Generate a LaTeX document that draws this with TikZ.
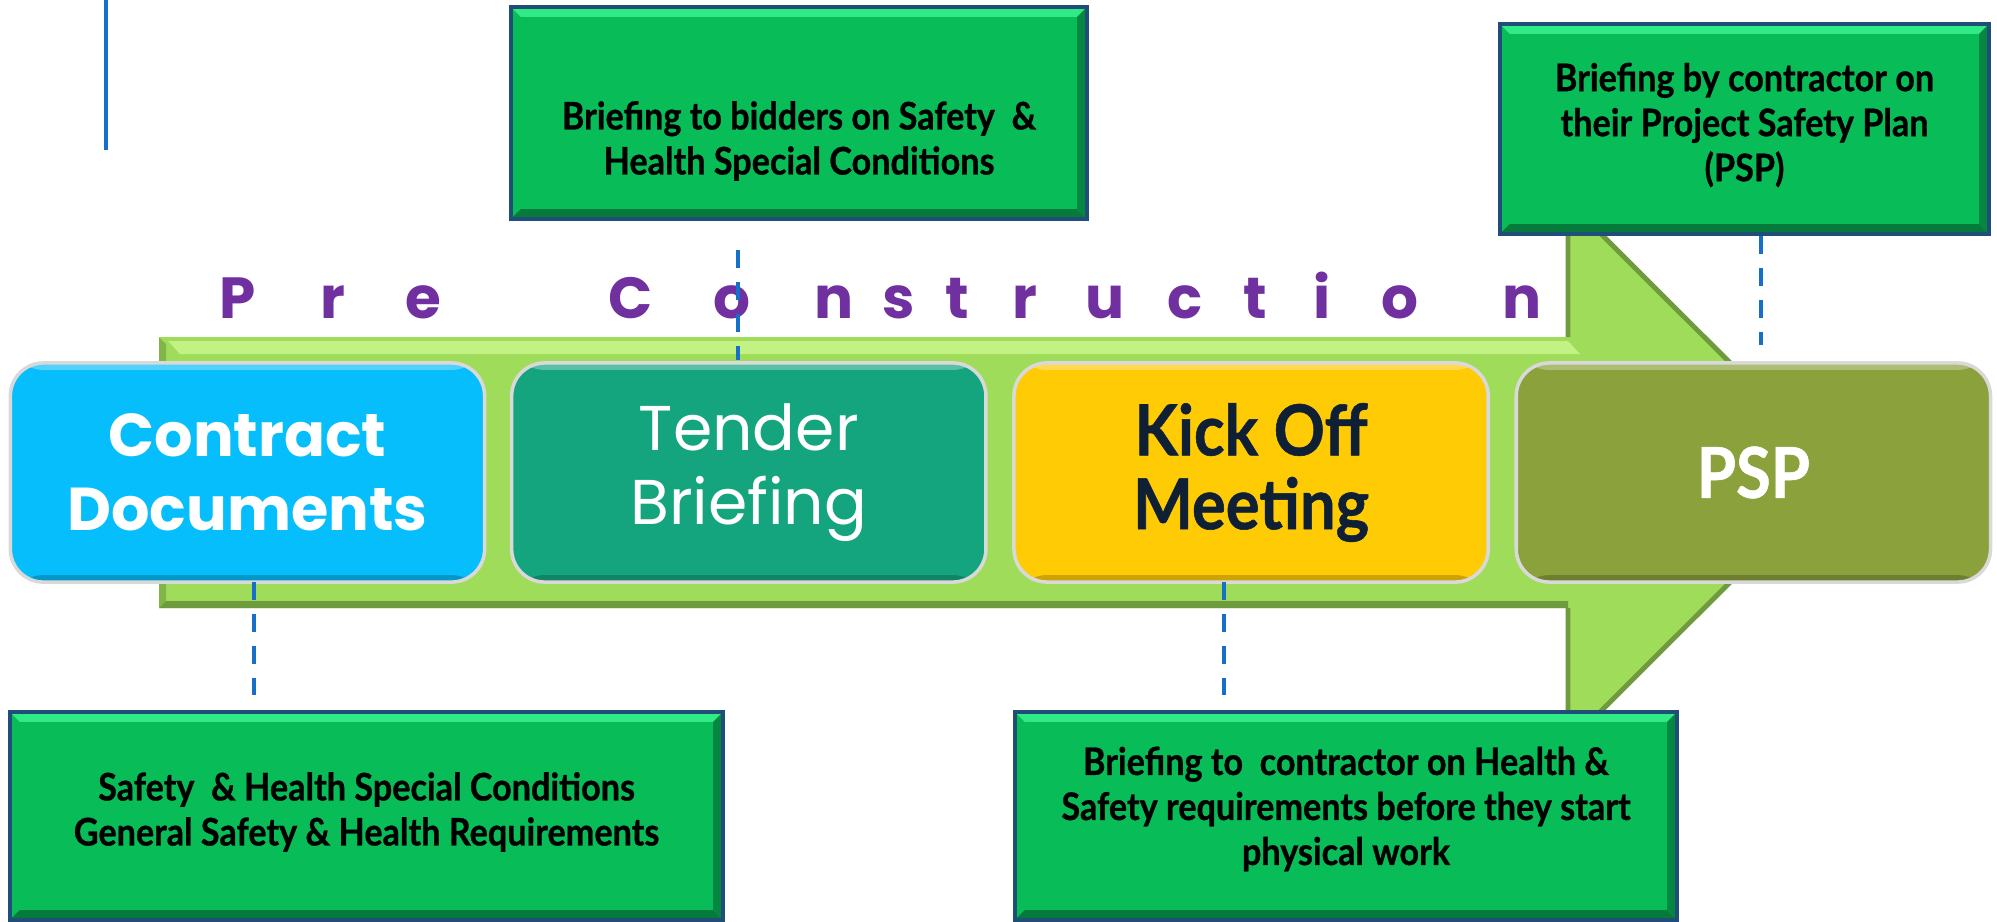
\documentclass[tikz,border=0pt]{standalone}
\usepackage{fontspec}
\setmainfont{Lato}
\newfontfamily\geofont{Poppins}
\newfontfamily\narrowfont[FakeStretch=0.9, FakeBold=0.8]{Lato}
\usetikzlibrary{positioning}

\definecolor{arrowgreen}{HTML}{9FDC5A}
\definecolor{arrowhi}{HTML}{C2F284}
\definecolor{arrowlo}{HTML}{6E9B3B}
\definecolor{cdblue}{HTML}{06BEFC}
\definecolor{tbteal}{HTML}{14A57E}
\definecolor{koyellow}{HTML}{FFCB05}
\definecolor{pspolive}{HTML}{8AA13C}
\definecolor{infogreen}{HTML}{08BC57}
\definecolor{infohi}{HTML}{30EA85}
\definecolor{infolo}{HTML}{067A3B}
\definecolor{infoedge}{HTML}{1F4E79}
\definecolor{precolor}{HTML}{7030A0}
\definecolor{linkblue}{HTML}{1670C8}
\definecolor{konavy}{HTML}{0F2035}

\tikzset{
  gloss/.style={path picture={
    \fill[white,opacity=0.3] (path picture bounding box.north west) rectangle ([yshift=-0.07cm]path picture bounding box.north east);
    \fill[black,opacity=0.2] ([yshift=0.07cm]path picture bounding box.south west) rectangle (path picture bounding box.south east);}},
  bevel/.style={path picture={
    \coordinate (pnw) at (path picture bounding box.north west);
    \coordinate (pne) at (path picture bounding box.north east);
    \coordinate (psw) at (path picture bounding box.south west);
    \coordinate (pse) at (path picture bounding box.south east);
    \fill[infohi] (pnw) -- (pne) -- ([shift={(-0.1cm,-0.1cm)}]pne) -- ([shift={(0.1cm,-0.1cm)}]pnw) -- cycle;
    \fill[infolo] (psw) -- (pse) -- ([shift={(-0.1cm,0.1cm)}]pse) -- ([shift={(0.1cm,0.1cm)}]psw) -- cycle;
    \fill[infolo!80!infogreen] (pne) -- (pse) -- ([shift={(-0.1cm,0.1cm)}]pse) -- ([shift={(-0.1cm,-0.1cm)}]pne) -- cycle;}}
}

\begin{document}
\begin{tikzpicture}[x=0.01cm, y=-0.01cm,
  stage/.style={draw=gray!30, line width=1pt, outer sep=0pt, rounded corners=0.33cm, minimum width=4.74cm, minimum height=2.19cm, align=center, inner sep=0pt, gloss},
  info/.style={draw=infoedge, line width=1.1pt, fill=infogreen, inner sep=0pt, bevel},
  infotext/.style={font=\narrowfont\bfseries\fontsize{10.8}{12.8}\selectfont, align=center, inner sep=0pt},
  link/.style={linkblue, line width=1.15pt, dash pattern=on 0.18cm off 0.14cm},
  letter/.style={font=\geofont\bfseries\fontsize{16.5}{18}\selectfont, text=precolor, anchor=base west, inner sep=0pt}]
\useasboundingbox (0,0) rectangle (1997,921);

% the big arrow
\fill[arrowgreen] (159,337) -- (1568,337) -- (1568,201) -- (1840,472.5) -- (1568,744) -- (1568,608) -- (159,608) -- cycle;
\fill[arrowhi] (168,341) -- (1568,341) -- (1580,354) -- (180,354) -- cycle;
\fill[arrowlo!60!arrowgreen] (159,337) -- (166,344) -- (166,601) -- (159,608) -- cycle;
\fill[arrowlo] (159,608) -- (166,601) -- (1568,601) -- (1568,608) -- cycle;
\draw[arrowlo, line width=1.4pt] (1568,337) -- (1568,201) -- (1840,472.5) -- (1568,744) -- (1568,608);

\draw[linkblue, line width=1pt] (106,0) -- (106,150);

% Pre Construction
\foreach \ch/\xx [count=\i] in {P/219, r/320, e/405, C/608, o/713, n/814, s/882, t/945, r/1012, u/1085, c/1167, t/1243, i/1313, o/1381, n/1502}
  \node[letter] (pc\i) at (\xx,318) {\ch};

% briefing boxes
\node[info, minimum width=5.76cm, minimum height=2.12cm] (tbinfo) at (799,113) {};
\node[infotext] (tbtext) at (799,141) {Briefing to bidders on Safety\ \ \&\\Health Special Conditions};
\node[info, minimum width=4.89cm, minimum height=2.10cm] (pspinfo) at (1744.5,129) {};
\node[infotext] (psptext) at (1744.5,125) {Briefing by contractor on\\their Project Safety Plan\\(PSP)};
\node[info, minimum width=7.13cm, minimum height=2.08cm] (cdinfo) at (366.5,816) {};
\node[infotext] (cdtext) at (366.5,812) {Safety\ \ \& Health Special Conditions\\General Safety \& Health Requirements};
\node[info, minimum width=6.62cm, minimum height=2.08cm] (koinfo) at (1346,816) {};
\node[infotext] (kotext) at (1346,809) {Briefing to\ \ contractor on Health \&\\Safety requirements before they start\\physical work};

% stages
\node[stage, fill=cdblue, text=white, font=\geofont\bfseries\fontsize{17.2}{21}\selectfont] (cd) at (247.5,472.5) {Contract\\Documents};
\node[stage, fill=tbteal, text=white, font=\geofont\fontsize{18}{21}\selectfont, right=0.27cm of cd] (tb) {Tender\\Briefing};
\node[stage, fill=koyellow, text=konavy, font=\narrowfont\bfseries\fontsize{20}{21}\selectfont, right=0.28cm of tb] (ko) {Kick Off\\Meeting};
\node[stage, fill=pspolive, text=white, font=\narrowfont\bfseries\fontsize{20}{21}\selectfont, right=0.28cm of ko] (psp) {PSP};

% links
\draw[link, shorten >=0.15cm] (254,0 |- cd.south) -- (254,0 |- cdinfo.north);
\draw[link, shorten <=0.29cm, shorten >=0.03cm] (738,0 |- tbinfo.south) -- (738,0 |- tb.north);
\draw[link, shorten >=0.15cm] (1224,0 |- ko.south) -- (1224,0 |- koinfo.north);
\draw[link, shorten >=0.18cm] (1761,0 |- pspinfo.south) -- (1761,0 |- psp.north);
\end{tikzpicture}
\end{document}
